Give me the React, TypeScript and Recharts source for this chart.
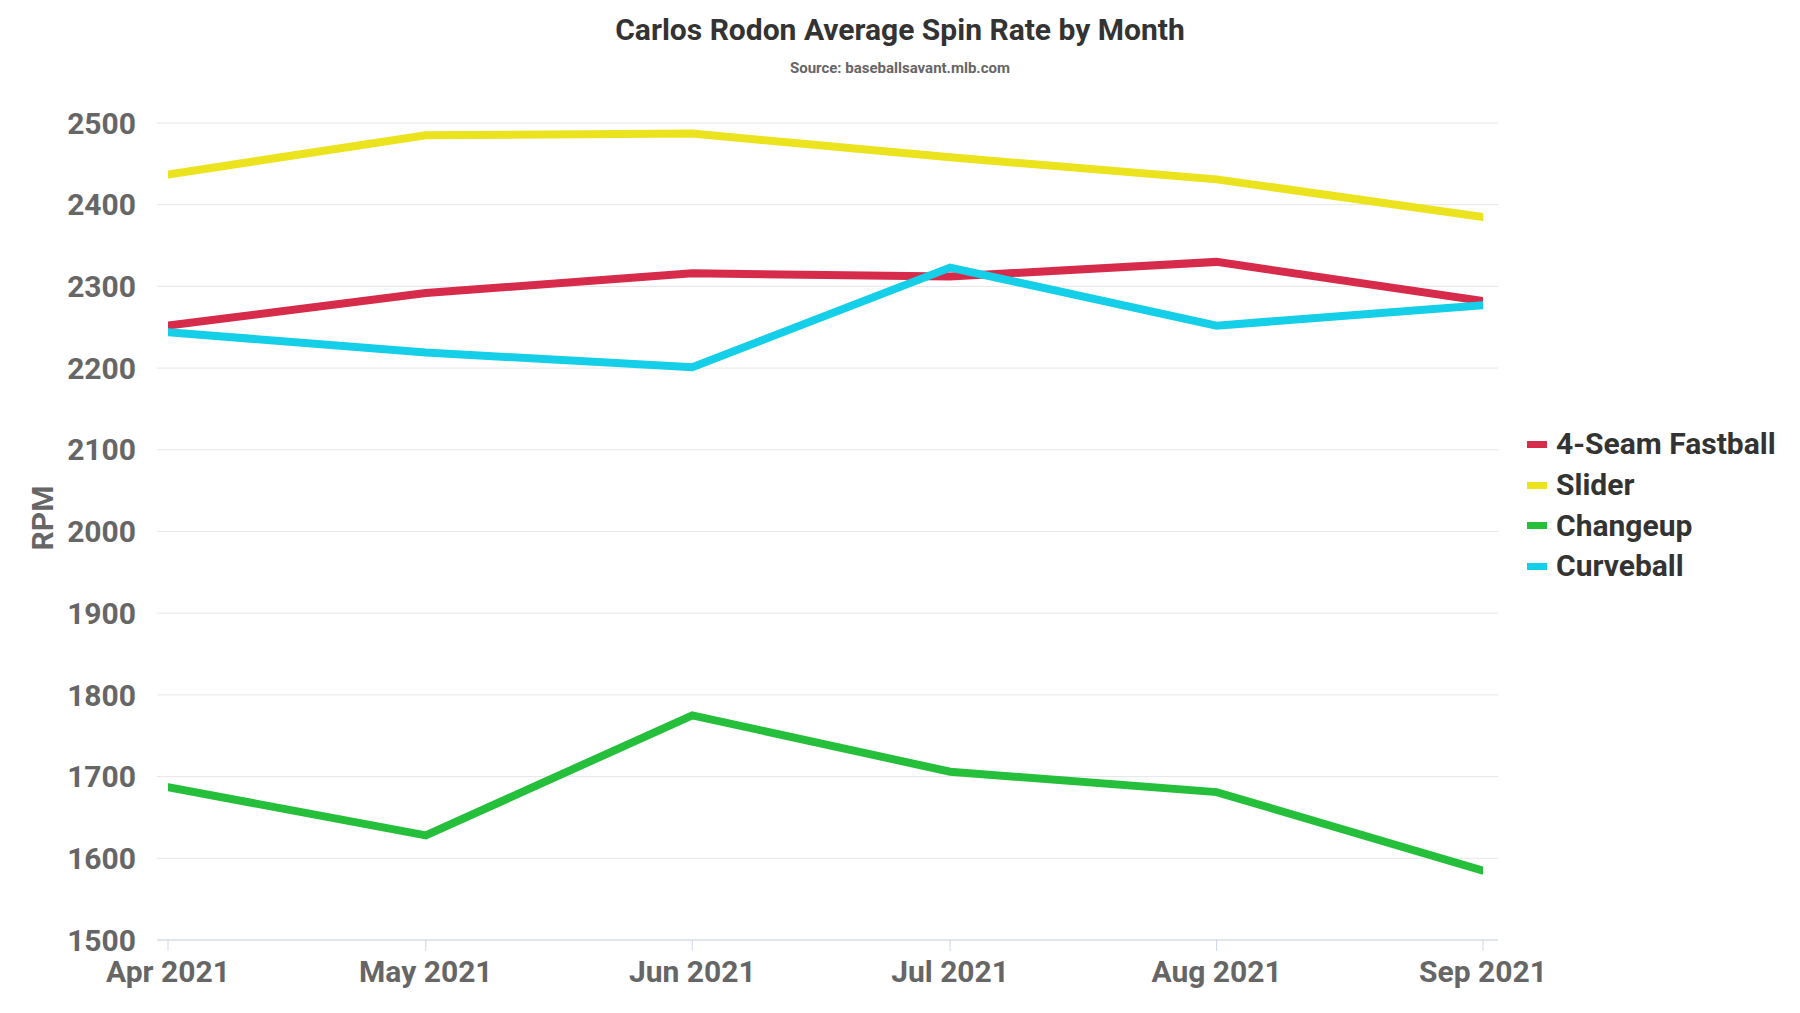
import React from 'react';
import { LineChart, Line, XAxis, YAxis, CartesianGrid } from 'recharts';

const title = 'Carlos Rodon Average Spin Rate by Month';
const subtitle = 'Source: baseballsavant.mlb.com';
const yAxisLabel = 'RPM';

const monthDates = ['2021-04-01', '2021-05-01', '2021-06-01', '2021-07-01', '2021-08-01', '2021-09-01'];
const monthLabels = ['Apr 2021', 'May 2021', 'Jun 2021', 'Jul 2021', 'Aug 2021', 'Sep 2021'];

const fastball = [2252, 2292, 2316, 2312, 2330, 2282];
const slider = [2437, 2485, 2487, 2458, 2431, 2385];
const changeup = [1687, 1628, 1775, 1706, 1681, 1585];
const curveball = [2244, 2219, 2201, 2323, 2252, 2277];

const yTicks = [1500, 1600, 1700, 1800, 1900, 2000, 2100, 2200, 2300, 2400, 2500];

const series = [
  { key: 'fastball', name: '4-Seam Fastball', color: '#d62b4b', values: fastball },
  { key: 'slider', name: 'Slider', color: '#ebe31d', values: slider },
  { key: 'changeup', name: 'Changeup', color: '#25bf3b', values: changeup },
  { key: 'curveball', name: 'Curveball', color: '#14cfe7', values: curveball },
];

const timestamps = monthDates.map((d) => Date.parse(d));

const data = timestamps.map((t, i) => {
  const row: Record<string, number> = { t };
  series.forEach((s) => {
    row[s.key] = s.values[i];
  });
  return row;
});

const labelFor = (t: number) => {
  const i = timestamps.indexOf(t);
  return i >= 0 ? monthLabels[i] : '';
};

const FONT = 'Roboto, "Noto Sans", sans-serif';

const RpmLabel = (props: any) => {
  const vb = props.viewBox || { x: 0, y: 0, width: 0, height: 0 };
  const cx = vb.x + 53;
  const cy = 518;
  return (
    <text
      x={cx}
      y={cy}
      transform={`rotate(-90, ${cx}, ${cy})`}
      textAnchor="middle"
      fill="#666666"
      fontFamily={FONT}
      fontWeight={700}
      fontSize={30}
    >
      {yAxisLabel}
    </text>
  );
};

export default function App() {
  return (
    <div style={{ position: 'absolute', left: 0, top: 0, width: 1800, height: 1013, background: '#ffffff', fontFamily: FONT }}>
      <div
        style={{
          position: 'absolute',
          left: 0,
          top: 12,
          width: 1800,
          textAlign: 'center',
          fontSize: 30,
          lineHeight: '36px',
          fontWeight: 700,
          color: '#333333',
        }}
      >
        {title}
      </div>
      <div
        style={{
          position: 'absolute',
          left: 0,
          top: 59,
          width: 1800,
          textAlign: 'center',
          fontSize: 15,
          lineHeight: '18px',
          fontWeight: 700,
          color: '#666666',
        }}
      >
        {subtitle}
      </div>
      <LineChart
        width={1800}
        height={1013}
        data={data}
        margin={{ top: 123, right: 302, bottom: 0, left: 0 }}
      >
        <CartesianGrid horizontal={true} vertical={false} stroke="#e6e6e6" strokeWidth={1} />
        <XAxis
          dataKey="t"
          type="number"
          scale="linear"
          domain={[timestamps[0], timestamps[timestamps.length - 1]]}
          ticks={timestamps}
          tickFormatter={labelFor}
          padding={{ left: 11, right: 15 }}
          height={73}
          axisLine={{ stroke: '#ccd6eb', strokeWidth: 1 }}
          tickLine={{ stroke: '#ccd6eb', strokeWidth: 1 }}
          tickSize={11}
          tickMargin={10}
          tick={{ fill: '#666666', fontSize: 30, fontWeight: 700, fontFamily: FONT }}
          interval={0}
          allowDataOverflow={true}
        />
        <YAxis
          type="number"
          domain={[1500, 2500]}
          ticks={yTicks}
          width={157}
          axisLine={false}
          tickLine={false}
          tickSize={0}
          tickMargin={21}
          tick={{ fill: '#666666', fontSize: 30, fontWeight: 700, fontFamily: FONT }}
          interval={0}
          label={{ content: RpmLabel }}
        />
        {series.map((s) => (
          <Line
            key={s.key}
            type="linear"
            dataKey={s.key}
            name={s.name}
            stroke={s.color}
            strokeWidth={8}
            strokeLinecap="round"
            strokeLinejoin="miter"
            dot={false}
            activeDot={false}
            isAnimationActive={false}
          />
        ))}
      </LineChart>
      <div style={{ position: 'absolute', left: 1527, top: 424 }}>
        {series.map((s) => (
          <div key={s.key} style={{ display: 'flex', alignItems: 'center', height: 40.7 }}>
            <div style={{ width: 20, height: 7, background: s.color, marginRight: 9 }} />
            <span style={{ fontSize: 30, fontWeight: 700, color: '#333333', lineHeight: '36px' }}>{s.name}</span>
          </div>
        ))}
      </div>
    </div>
  );
}
